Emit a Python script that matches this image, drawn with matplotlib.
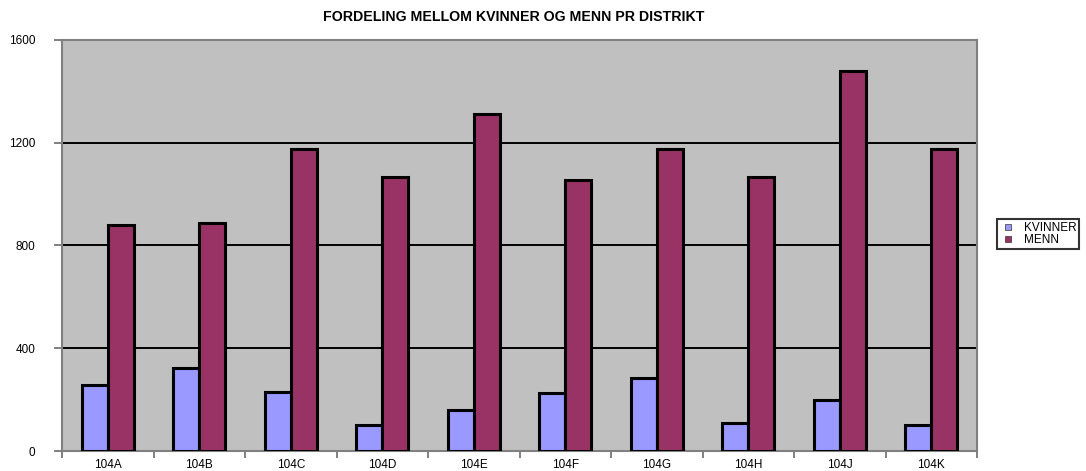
import numpy as np
import matplotlib.pyplot as plt
from matplotlib.lines import Line2D

plt.rcParams["font.family"] = ["Liberation Sans", "DejaVu Sans"]

districts = ["104A", "104B", "104C", "104D", "104E", "104F", "104G", "104H", "104J", "104K"]
kvinner = [255, 325, 230, 100, 160, 225, 285, 108, 200, 100]
menn = [880, 887, 1177, 1065, 1313, 1055, 1177, 1065, 1480, 1177]

yticks = [0, 400, 800, 1200, 1600]

col_k = "#9999FF"
col_m = "#993366"
grey = "#808080"

fig = plt.figure(figsize=(10.86, 4.71), dpi=100)
ax = fig.add_axes([62 / 1086, 1 - 451 / 471, (977 - 62) / 1086, (451 - 40) / 471])
ax.set_facecolor("#C0C0C0")

x = np.arange(len(districts))
w = 0.285
ax.bar(x - w / 2, kvinner, w, color=col_k, edgecolor="black", linewidth=2.2, zorder=3)
ax.bar(x + w / 2, menn, w, color=col_m, edgecolor="black", linewidth=2.2, zorder=3)

ax.set_xlim(-0.5, len(districts) - 0.5)
ax.set_ylim(0, 1600)

# gridlines
for v in yticks[1:-1]:
    ax.axhline(v, color="black", linewidth=1.4, zorder=1)

ax.set_yticks(yticks)
ax.set_yticklabels([str(v) for v in yticks], fontsize=8.5)
ax.tick_params(axis="y", length=6, width=1.4, color=grey, pad=13, direction="out")

# category ticks at boundaries, labels at centres
ax.set_xticks(np.arange(len(districts) + 1) - 0.5)
ax.set_xticklabels([])
ax.set_xticks(x, minor=True)
ax.set_xticklabels(districts, minor=True, fontsize=8.5)
ax.tick_params(axis="x", which="major", length=5, width=1.4, color=grey, direction="out")
ax.tick_params(axis="x", which="minor", length=0, pad=6)

for s in ax.spines.values():
    s.set_color(grey)
    s.set_linewidth(1.5)

fig.text(514 / 1086, 1 - 17 / 471, "FORDELING MELLOM KVINNER OG MENN PR DISTRIKT",
         ha="center", va="center", fontsize=10.2, fontweight="bold")

handles = [Line2D([], [], linestyle="none", marker="s", markersize=4.5,
                  markerfacecolor=col_k, markeredgecolor="#333333", markeredgewidth=0.5,
                  label="KVINNER"),
           Line2D([], [], linestyle="none", marker="s", markersize=4.5,
                  markerfacecolor=col_m, markeredgecolor="#333333", markeredgewidth=0.5,
                  label="MENN")]
leg = fig.legend(handles=handles, loc="upper left",
                 bbox_to_anchor=(997 / 1086, 1 - 219 / 471),
                 fontsize=8.5, frameon=True, fancybox=False, handlelength=1.4,
                 handletextpad=0.6, borderpad=0.25,
                 labelspacing=0.0, borderaxespad=0)
leg.get_frame().set_edgecolor("black")
leg.get_frame().set_linewidth(1.5)

fig.savefig("out.png", dpi=100)
